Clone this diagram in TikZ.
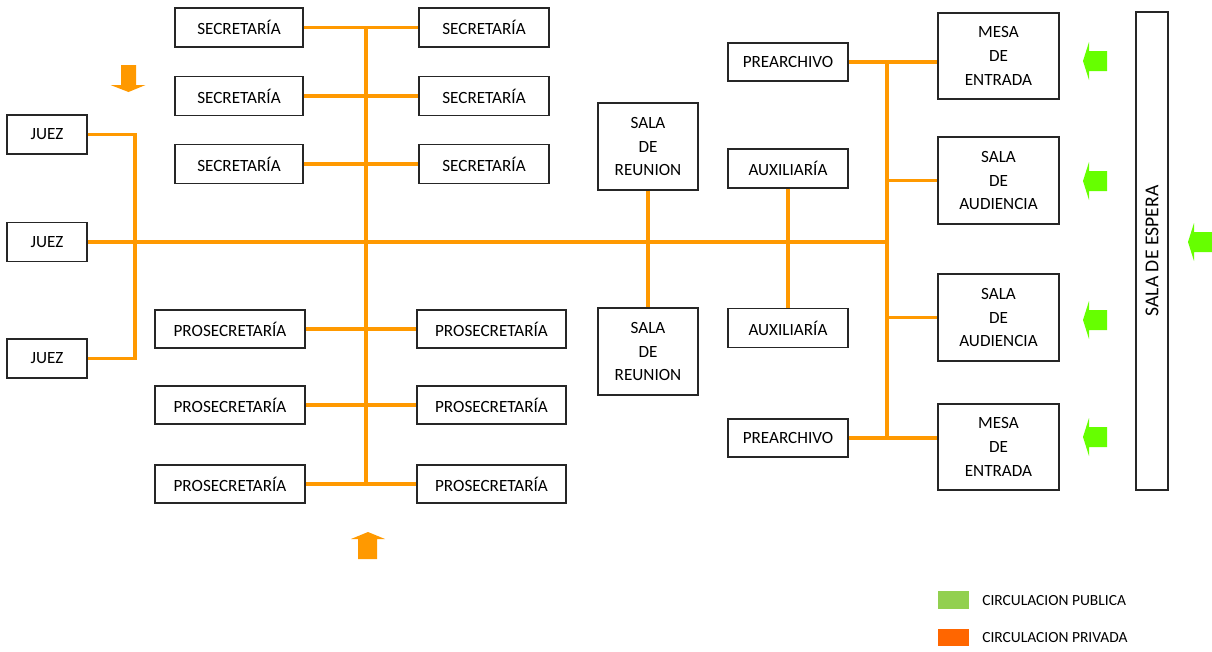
\documentclass[tikz,border=0pt]{standalone}
\usepackage{fontspec}
\setmainfont{Carlito}
\usetikzlibrary{calc}
\definecolor{naranja}{RGB}{255,153,0}
\definecolor{verde}{RGB}{102,255,0}
\definecolor{verdeley}{RGB}{146,208,80}
\definecolor{naranjaley}{RGB}{255,102,0}
\tikzset{
	oficina/.style={draw=black!85, line width=1pt, fill=white, inner sep=0pt, align=center, font=\fontsize{12.2}{17}\selectfont},
	caja/.style 2 args={minimum width=#1*0.7113pt, minimum height=#2*0.7113pt},
	pasillo/.style={draw=naranja, line width=2.6pt},
	leyenda/.style={anchor=west, inner sep=0pt, font=\fontsize{11}{13}\selectfont},
}
\def\flechapub(#1,#2){\fill[verde] (#1,#2) -- ++(6,-19) -- ++(0,9) -- ++(18,0) -- ++(0,20) -- ++(-18,0) -- ++(0,9) -- cycle;}

\begin{document}
\begin{tikzpicture}[x=0.025cm, y=-0.025cm]
		%%%%% START %%%%%
		\useasboundingbox (0,0) rectangle (1212,652);
		
		\node[oficina, caja={80}{39}] (juez1) at (47,134.5) {JUEZ};
		\node[oficina, caja={80}{39}] (juez2) at (47,242) {JUEZ};
		\node[oficina, caja={80}{39}] (juez3) at (47,358.5) {JUEZ};
		
		\node[oficina, caja={128}{39}] (seci1) at (239,27.5) {SECRETARÍA};
		\node[oficina, caja={128}{39}] (seci2) at (239,96) {SECRETARÍA};
		\node[oficina, caja={128}{39}] (seci3) at (239,164) {SECRETARÍA};
		\node[oficina, caja={130}{39}] (secd1) at (484,27.5) {SECRETARÍA};
		\node[oficina, caja={130}{39}] (secd2) at (484,96) {SECRETARÍA};
		\node[oficina, caja={130}{39}] (secd3) at (484,164) {SECRETARÍA};
		
		\node[oficina, caja={150}{38}] (proi1) at (230,329) {PROSECRETARÍA};
		\node[oficina, caja={150}{38}] (proi2) at (230,405) {PROSECRETARÍA};
		\node[oficina, caja={150}{38}] (proi3) at (230,484) {PROSECRETARÍA};
		\node[oficina, caja={149}{38}] (prod1) at (491.5,329) {PROSECRETARÍA};
		\node[oficina, caja={149}{38}] (prod2) at (491.5,405) {PROSECRETARÍA};
		\node[oficina, caja={149}{38}] (prod3) at (491.5,484) {PROSECRETARÍA};
		
		\node[oficina, caja={100}{87}] (reu1) at (648,146.5) {SALA\\DE\\REUNION};
		\node[oficina, caja={100}{87}] (reu2) at (648,351.5) {SALA\\DE\\REUNION};
		\node[oficina, caja={120}{39}] (aux1) at (788,168.5) {AUXILIARÍA};
		\node[oficina, caja={120}{39}] (aux2) at (788,328) {AUXILIARÍA};
		
		\node[oficina, caja={120}{38}] (pre1) at (788,62) {PREARCHIVO};
		\node[oficina, caja={120}{38}] (pre2) at (788,438) {PREARCHIVO};
		\node[oficina, caja={121}{86}] (mesa1) at (998.5,56) {MESA\\DE\\ENTRADA};
		\node[oficina, caja={121}{87}] (aud1) at (998.5,180.5) {SALA\\DE\\AUDIENCIA};
		\node[oficina, caja={121}{87}] (aud2) at (998.5,317.5) {SALA\\DE\\AUDIENCIA};
		\node[oficina, caja={121}{86}] (mesa2) at (998.5,447) {MESA\\DE\\ENTRADA};
		
		\node[oficina, caja={478}{32}, rotate=90, font=\fontsize{14}{16}\selectfont] (espera) at (1152,251) {SALA DE ESPERA};
		
		% pasillos
		\coordinate (ejeizq) at (366,0);
		\coordinate (ejeder) at (887,0);
		
		\draw[pasillo] (juez1.east) -- ++(47,0) |- (juez3.east);
		\draw[pasillo] (juez2) -- (juez2 -| ejeder);
		
		\draw[pasillo] (ejeizq |- seci1) -- (ejeizq |- proi3);
		\draw[pasillo] (seci1) -- (secd1);
		\draw[pasillo] (seci2) -- (secd2);
		\draw[pasillo] (seci3) -- (secd3);
		\draw[pasillo] (proi1) -- (prod1);
		\draw[pasillo] (proi2) -- (prod2);
		\draw[pasillo] (proi3) -- (prod3);
		
		\draw[pasillo] (reu1) -- (reu2);
		\draw[pasillo] (aux1) -- (aux2);
		
		\draw[pasillo] (ejeder |- pre1) -- (ejeder |- pre2);
		\draw[pasillo] (pre1) -- (pre1 -| mesa1.west);
		\draw[pasillo] (pre2) -- (pre2 -| mesa2.west);
		\draw[pasillo] (ejeder |- aud1) -- (aud1);
		\draw[pasillo] (ejeder |- aud2) -- (aud2);
		
		% circulacion privada
		\fill[naranja] (121,65) -- (136,65) -- (136,85) -- (145.5,85) -- (128.5,92) -- (110.5,85) -- (121,85) -- cycle;
		\fill[naranja] (358,559) -- (377,559) -- (377,539) -- (385,539) -- (368,532) -- (351,539) -- (358,539) -- cycle;
		
		% circulacion publica
		\flechapub(1083,61)
		\flechapub(1083,181)
		\flechapub(1083,320)
		\flechapub(1083,437)
		\flechapub(1188,242)
		
		% leyenda
		\fill[verdeley] (938,591) rectangle (969,609);
		\fill[naranjaley] (938,629) rectangle (969,646);
		\node[leyenda] (ley1) at (982,601) {CIRCULACION PUBLICA};
		\node[leyenda] (ley2) at (982,638) {CIRCULACION PRIVADA};
		
		%%%%% END %%%%%
	\end{tikzpicture}
\end{document}
